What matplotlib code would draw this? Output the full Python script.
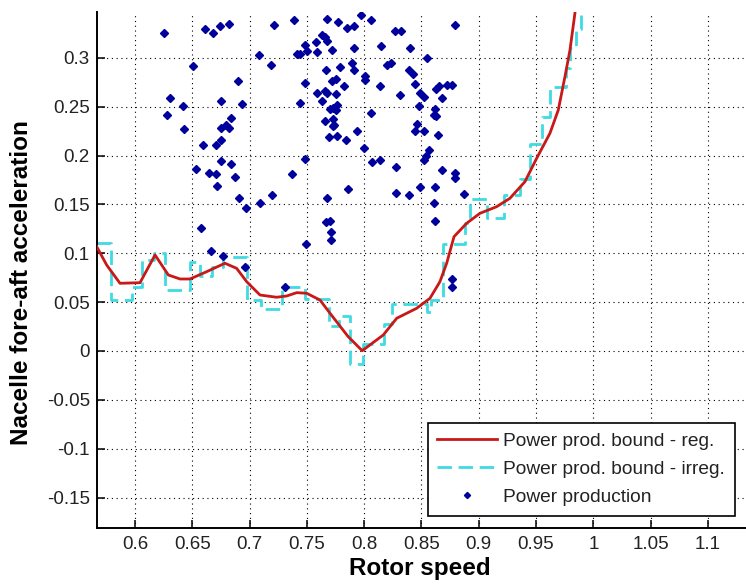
import matplotlib
matplotlib.use("Agg")
import matplotlib.pyplot as plt

plt.rcParams['font.family'] = ['Liberation Sans', 'DejaVu Sans']

# Regular power-production bound (smooth)
reg_speed = [0.5666, 0.5753, 0.5869, 0.6044, 0.6175, 0.6291, 0.6393, 0.6480,
             0.6626, 0.6785, 0.6887, 0.6975, 0.7091, 0.7236, 0.7324, 0.7411,
             0.7498, 0.7614, 0.7702, 0.7861, 0.7983, 0.8167, 0.8284, 0.8458,
             0.8574, 0.8661, 0.8720, 0.8784, 0.8894, 0.9010, 0.9156, 0.9272,
             0.9403, 0.9505, 0.9621, 0.9694, 0.9752, 0.9796, 0.9839, 0.9852]
reg_acc = [0.1068, 0.0880, 0.0693, 0.0699, 0.0983, 0.0778, 0.0737, 0.0737,
           0.0812, 0.0898, 0.0846, 0.0709, 0.0573, 0.0550, 0.0563, 0.0597,
           0.0591, 0.0522, 0.0386, 0.0146, 0.0003, 0.0164, 0.0335, 0.0437,
           0.0539, 0.0709, 0.0898, 0.1170, 0.1307, 0.1409, 0.1477, 0.1563,
           0.1733, 0.1972, 0.2228, 0.2467, 0.2808, 0.3081, 0.3456, 0.3600]

# Irregular power-production bound (staircase)
irr_speed = [0.5666, 0.579, 0.579, 0.597, 0.597, 0.606, 0.606, 0.617, 0.617,
             0.626, 0.626, 0.648, 0.648, 0.657, 0.657, 0.667, 0.667, 0.677,
             0.677, 0.6975, 0.6975, 0.710, 0.710, 0.728, 0.728, 0.748, 0.748,
             0.769, 0.769, 0.778, 0.778, 0.788, 0.788, 0.799, 0.799, 0.817,
             0.817, 0.824, 0.824, 0.855, 0.855, 0.858, 0.858, 0.8685, 0.8685,
             0.888, 0.888, 0.892, 0.892, 0.907, 0.907, 0.922, 0.922, 0.936,
             0.936, 0.945, 0.945, 0.955, 0.955, 0.962, 0.962, 0.976, 0.976,
             0.980, 0.980, 0.985, 0.985, 0.989, 0.989]
irr_acc = [0.111, 0.111, 0.052, 0.052, 0.066, 0.066, 0.093, 0.093, 0.100,
           0.100, 0.062, 0.062, 0.091, 0.091, 0.077, 0.077, 0.086, 0.086,
           0.096, 0.096, 0.052, 0.052, 0.043, 0.043, 0.066, 0.066, 0.053,
           0.053, 0.026, 0.026, 0.036, 0.036, -0.013, -0.013, 0.007, 0.007,
           0.028, 0.028, 0.048, 0.048, 0.040, 0.040, 0.052, 0.052, 0.110,
           0.110, 0.131, 0.131, 0.156, 0.156, 0.136, 0.136, 0.160, 0.160,
           0.176, 0.176, 0.212, 0.212, 0.240, 0.240, 0.270, 0.270, 0.290,
           0.290, 0.310, 0.310, 0.330, 0.330, 0.360]

# Measured power-production samples
prod_speed = [0.625, 0.661, 0.668, 0.674, 0.682, 0.721, 0.739, 0.748, 0.741,
              0.744, 0.708, 0.719, 0.651, 0.690, 0.748, 0.631, 0.642, 0.675,
              0.693, 0.744, 0.628, 0.684, 0.643, 0.675, 0.679, 0.682, 0.659,
              0.671, 0.675, 0.748, 0.653, 0.675, 0.684, 0.665, 0.671, 0.687,
              0.672, 0.737, 0.720, 0.691, 0.709, 0.697, 0.658, 0.749, 0.666,
              0.677, 0.696, 0.731, 0.797, 0.768, 0.777, 0.806, 0.785, 0.791,
              0.827, 0.832, 0.879, 0.763, 0.766, 0.768, 0.758, 0.750, 0.759,
              0.772, 0.791, 0.815, 0.840, 0.855, 0.789, 0.791, 0.779, 0.767,
              0.820, 0.823, 0.839, 0.843, 0.801, 0.801, 0.775, 0.772, 0.782,
              0.814, 0.844, 0.863, 0.865, 0.872, 0.877, 0.759, 0.766, 0.768,
              0.775, 0.831, 0.849, 0.852, 0.868, 0.763, 0.770, 0.773, 0.776,
              0.775, 0.848, 0.862, 0.861, 0.863, 0.806, 0.766, 0.773, 0.774,
              0.773, 0.846, 0.844, 0.852, 0.864, 0.794, 0.769, 0.776, 0.784,
              0.800, 0.857, 0.807, 0.814, 0.828, 0.852, 0.854, 0.868, 0.879,
              0.879, 0.786, 0.768, 0.828, 0.839, 0.849, 0.862, 0.887, 0.861,
              0.767, 0.770, 0.771, 0.771, 0.862, 0.877, 0.877]
prod_acc = [0.326, 0.330, 0.326, 0.333, 0.335, 0.334, 0.339, 0.313, 0.304,
            0.304, 0.303, 0.293, 0.292, 0.276, 0.274, 0.259, 0.251, 0.256,
            0.253, 0.254, 0.242, 0.239, 0.227, 0.228, 0.231, 0.228, 0.211,
            0.211, 0.216, 0.197, 0.186, 0.194, 0.191, 0.182, 0.181, 0.178,
            0.169, 0.181, 0.160, 0.157, 0.151, 0.146, 0.126, 0.109, 0.102,
            0.097, 0.086, 0.066, 0.344, 0.340, 0.337, 0.339, 0.331, 0.333,
            0.328, 0.328, 0.334, 0.323, 0.321, 0.317, 0.316, 0.307, 0.306,
            0.308, 0.310, 0.312, 0.310, 0.300, 0.295, 0.288, 0.291, 0.288,
            0.293, 0.295, 0.288, 0.284, 0.281, 0.277, 0.278, 0.276, 0.271,
            0.271, 0.273, 0.268, 0.271, 0.272, 0.272, 0.264, 0.266, 0.264,
            0.263, 0.262, 0.264, 0.260, 0.259, 0.256, 0.248, 0.249, 0.252,
            0.247, 0.251, 0.248, 0.242, 0.241, 0.244, 0.235, 0.237, 0.231,
            0.230, 0.232, 0.225, 0.225, 0.221, 0.225, 0.219, 0.220, 0.216,
            0.208, 0.206, 0.193, 0.195, 0.188, 0.196, 0.200, 0.185, 0.182,
            0.177, 0.166, 0.157, 0.162, 0.160, 0.168, 0.168, 0.161, 0.151,
            0.132, 0.133, 0.122, 0.114, 0.133, 0.074, 0.066]

x_ticks = [0.6, 0.65, 0.7, 0.75, 0.8, 0.85, 0.9, 0.95, 1.0, 1.05, 1.1]
x_labels = ['0.6', '0.65', '0.7', '0.75', '0.8', '0.85', '0.9', '0.95', '1', '1.05', '1.1']
y_ticks = [-0.15, -0.1, -0.05, 0, 0.05, 0.1, 0.15, 0.2, 0.25, 0.3]
y_labels = ['-0.15', '-0.1', '-0.05', '0', '0.05', '0.1', '0.15', '0.2', '0.25', '0.3']

W, H = 746, 585
fig = plt.figure(figsize=(W / 100, H / 100), dpi=100)
ax = fig.add_axes([96.7 / W, 1 - 527.7 / H, 1 - 96.7 / W, (527.7 - 12) / H])

ax.plot(reg_speed, reg_acc, color='#c81818', lw=2.0,
        label='Power prod. bound - reg.', zorder=3)
ax.plot(irr_speed, irr_acc, color='#3fdbe3', lw=2.0, dashes=(5.2, 2.4),
        label='Power prod. bound - irreg.', zorder=2)
ax.plot(prod_speed, prod_acc, ls='none', marker='D', ms=3.9, color='#00009c',
        mec='#00009c', label='Power production', zorder=4)

ax.set_xlim(0.5666, 1.1332)
ax.set_ylim(-0.1809, 0.347)
ax.set_xticks(x_ticks)
ax.set_xticklabels(x_labels)
ax.set_yticks(y_ticks)
ax.set_yticklabels(y_labels)
ax.tick_params(direction='in', length=6, width=1.1, labelsize=13.5,
               colors='black', labelcolor='#222222', pad=6)
ax.tick_params(axis='y', pad=5)

ax.grid(True, color='black', lw=0.8, ls=(0, (1, 3.3)))
ax.set_axisbelow(True)
for side in ('top', 'right'):
    ax.spines[side].set_visible(False)
for side in ('left', 'bottom'):
    ax.spines[side].set_linewidth(1.4)

ax.set_xlabel('Rotor speed', fontsize=17.5, fontweight='bold')
ax.set_ylabel('Nacelle fore-aft acceleration', fontsize=17.5, fontweight='bold')
ax.xaxis.set_label_coords((420 - 96.7) / (W - 96.7), -(568 - 527.7) / (527.7 - 12))
ax.xaxis.label.set_va('center')
ax.yaxis.set_label_coords(-(96.7 - 22) / (W - 96.7), (527.7 - 283) / (527.7 - 12))
ax.yaxis.label.set_va('center')

leg = ax.legend(loc='lower left', bbox_to_anchor=(427.7 / W, 1 - 515.7 / H),
                bbox_transform=fig.transFigure, borderaxespad=0, fontsize=13.8,
                frameon=True, fancybox=False, edgecolor='black', framealpha=1,
                handlelength=3.1, handletextpad=0.35, labelspacing=0.55,
                borderpad=0.5, numpoints=1, markerscale=0.8)
leg.get_frame().set_linewidth(1.2)
for t in leg.get_texts():
    t.set_color('#222222')

fig.savefig('out.png', dpi=100)
